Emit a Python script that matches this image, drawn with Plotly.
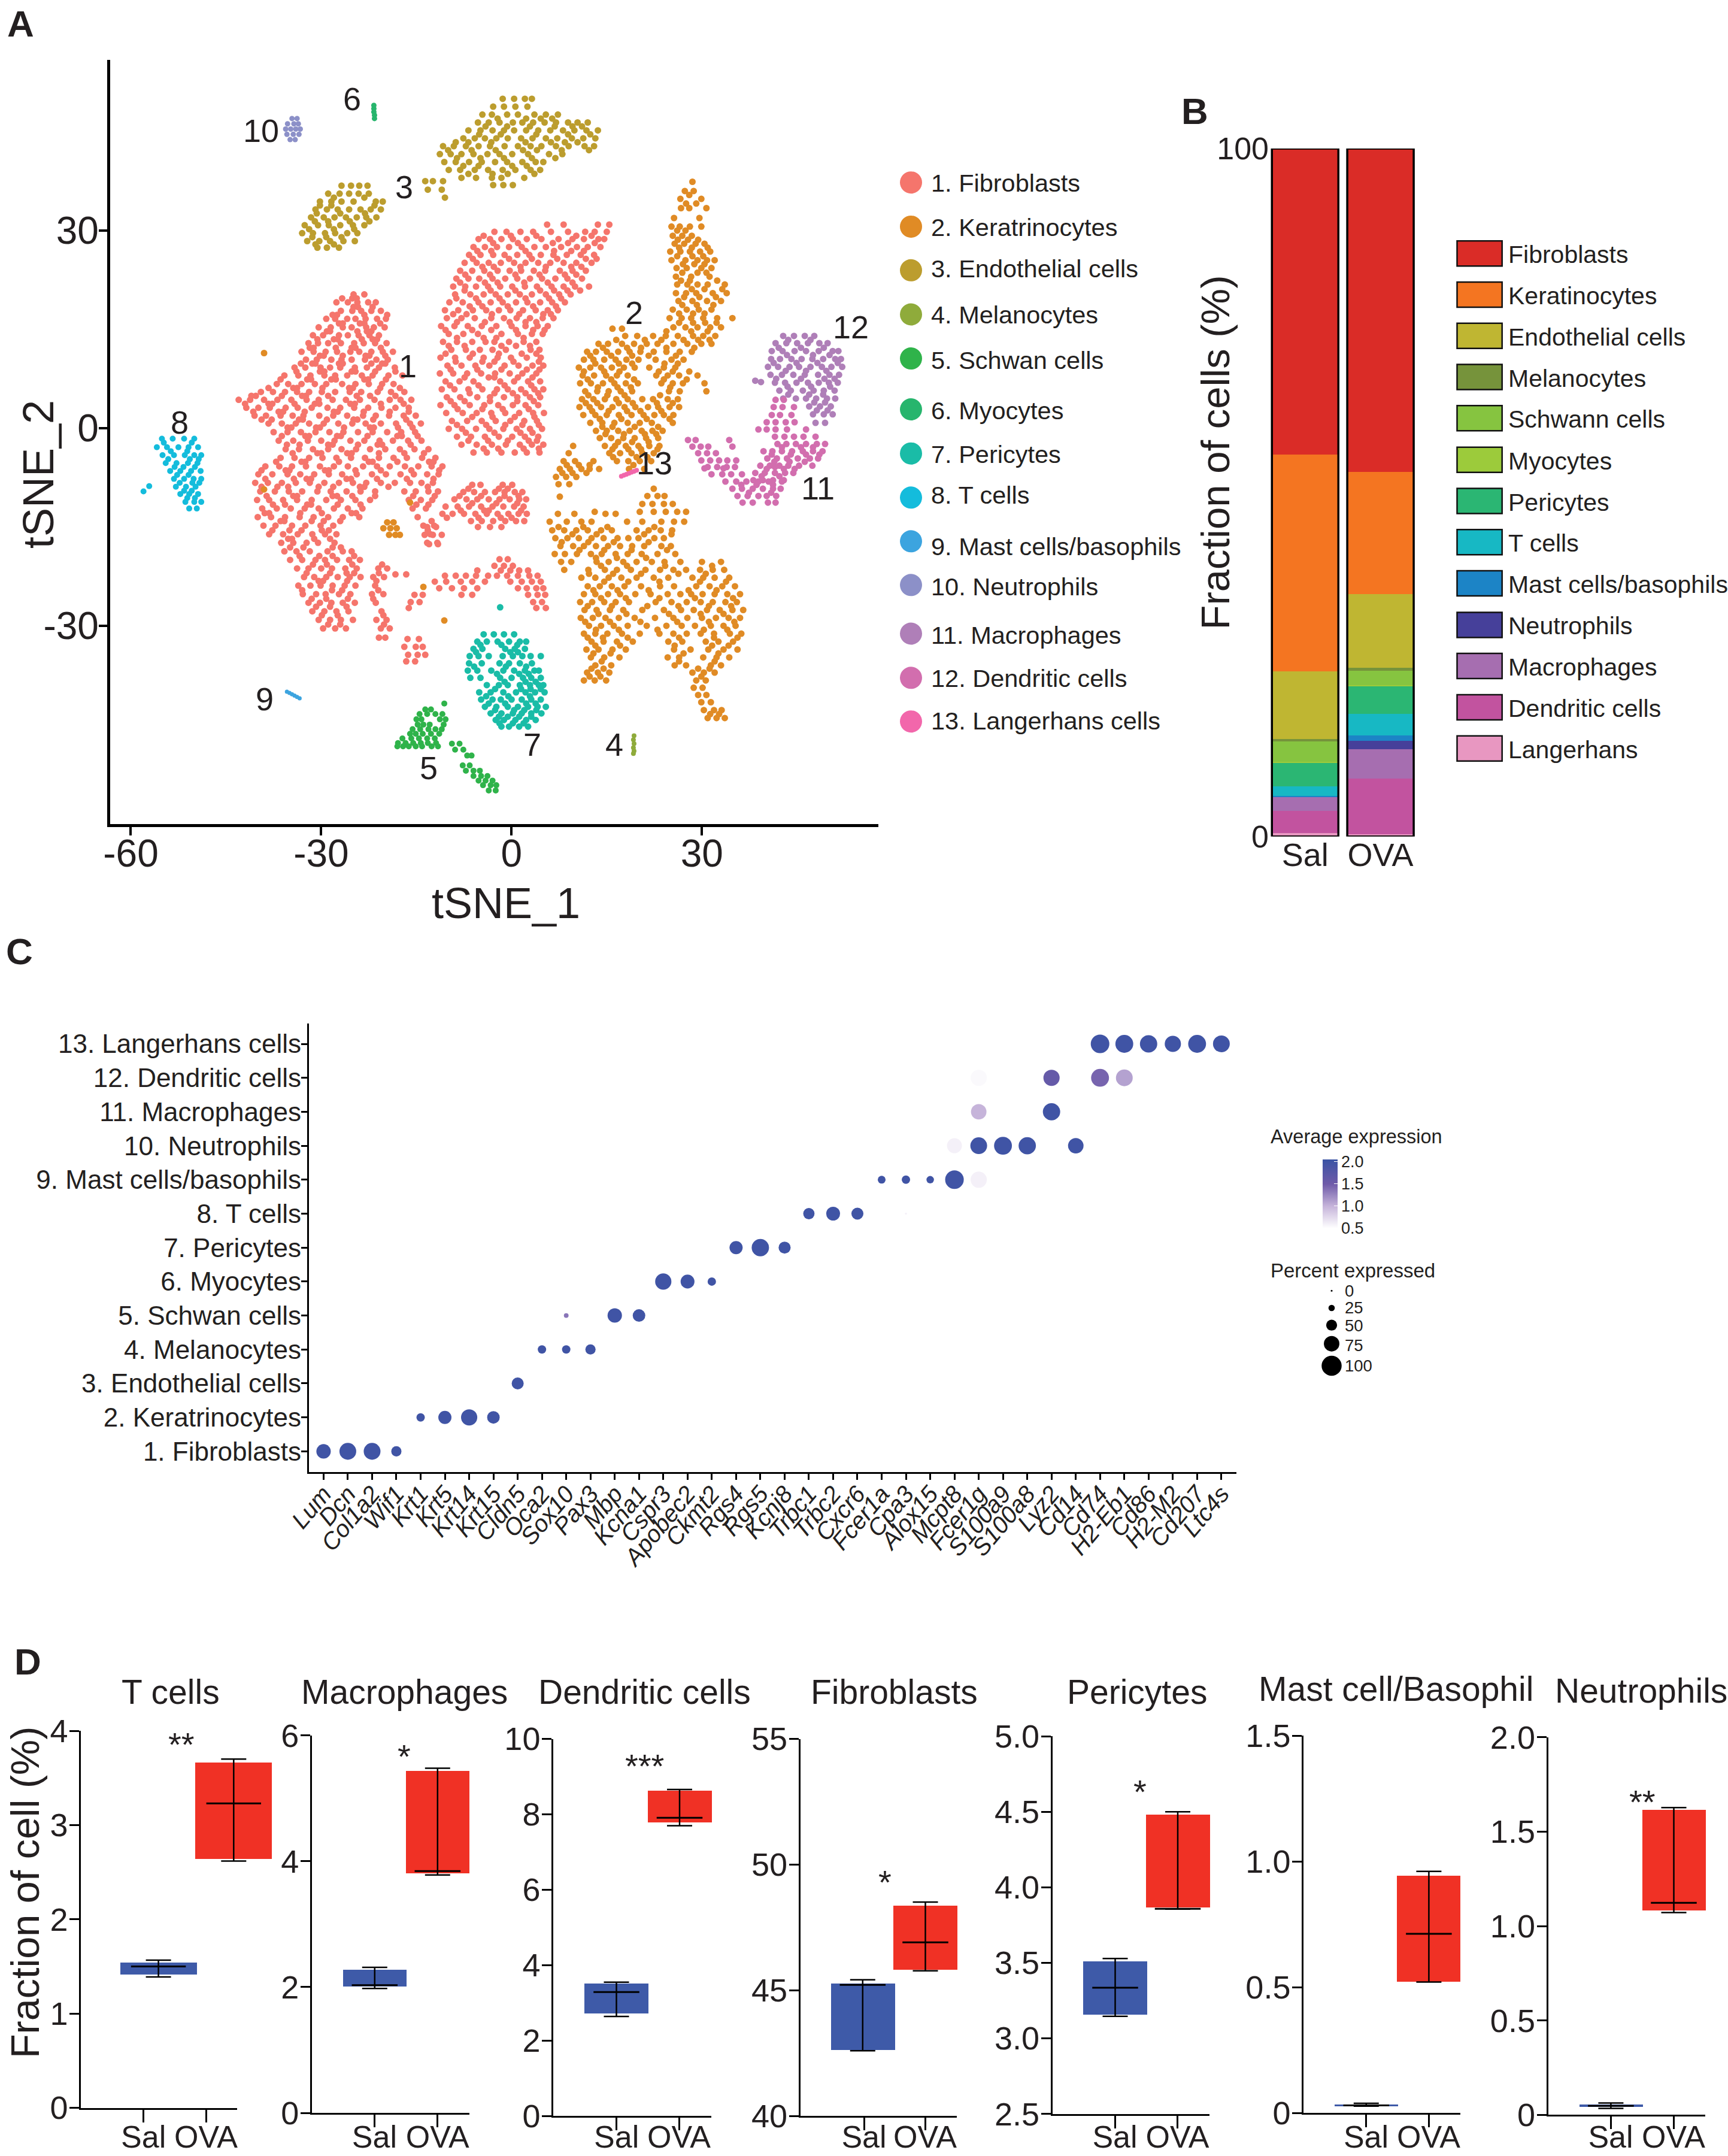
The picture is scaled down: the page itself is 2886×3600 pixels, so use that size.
import plotly.graph_objects as go

W, H = 2886, 3600
FONT = "Liberation Sans"
INK = "#231F20"

# ---------- Panel A: tSNE values as (tSNE_2, [tSNE_1 ...]) rows ----------
fibroblasts = [
 (20.3,[-24.9,-23.2]),(19.1,[-27.6,-25.8,-24.3,-22.6,-21.4]),(17.8,[-26.9,-25.1,-23.7,-22.1,-20.6]),
 (16.6,[-29.2,-27.8,-25.9,-24.6,-23.0,-21.2,-19.8]),(15.3,[-30.4,-28.5,-26.6,-25.2,-22.9,-21.7,-20.0]),
 (14.1,[-31.3,-29.7,-27.2,-25.8,-24.1,-22.4,-20.9]),(12.9,[-32.0,-30.5,-28.9,-26.9,-24.8,-23.3,-21.5,-19.7]),
 (11.6,[-33.1,-31.2,-29.3,-27.5,-25.4,-24.0,-22.1,-20.3,-18.7]),(10.4,[-32.4,-30.7,-28.4,-26.8,-25.2,-23.1,-21.3,-19.5]),
 (9.2,[-34.2,-32.5,-30.1,-28.6,-27.0,-24.7,-22.8,-20.9,-18.4]),(8.0,[-35.8,-33.6,-31.7,-29.5,-27.8,-25.9,-23.6,-21.9,-19.4,-17.2]),
 (6.7,[-37.0,-35.2,-33.1,-31.0,-29.2,-26.7,-24.6,-22.5,-20.4,-18.6]),(5.5,[-39.5,-37.6,-35.7,-33.8,-31.9,-29.9,-27.8,-25.5,-23.7,-21.1,-19.0,-16.9]),
 (4.3,[-43.0,-41.2,-39.0,-36.9,-34.7,-32.3,-30.4,-28.2,-26.1,-23.9,-21.6,-19.2,-17.5,-15.8]),
 (3.1,[-41.8,-39.9,-38.1,-35.6,-33.7,-31.5,-29.0,-27.0,-24.8,-22.6,-20.5,-18.3,-16.2]),
 (1.9,[-40.5,-38.7,-36.4,-34.5,-32.8,-30.3,-28.1,-25.9,-23.4,-21.4,-19.3,-17.0,-15.1]),
 (0.7,[-38.3,-36.2,-34.0,-31.9,-29.6,-27.3,-25.1,-23.0,-20.6,-18.2,-16.0,-14.3]),
 (-0.6,[-37.5,-35.3,-33.2,-30.9,-28.7,-26.5,-24.2,-21.9,-19.6,-17.4,-15.2]),
 (-1.9,[-36.7,-34.4,-32.1,-30.0,-27.9,-25.4,-23.2,-20.8,-18.7,-16.3,-14.2]),
 (-3.2,[-35.6,-33.5,-31.3,-28.9,-26.8,-24.5,-22.3,-19.9,-17.6,-15.3,-13.1]),
 (-4.5,[-36.4,-34.2,-31.9,-29.8,-27.6,-25.3,-23.1,-20.9,-18.6,-16.5,-14.1,-12.0]),
 (-5.8,[-38.8,-36.6,-34.6,-32.4,-30.2,-28.0,-25.8,-23.4,-21.2,-19.2,-16.8,-14.7,-12.6,-10.9]),
 (-7.0,[-39.9,-37.7,-35.3,-33.3,-31.1,-28.8,-26.7,-24.4,-22.0,-19.8,-17.5,-15.4,-13.3,-11.5]),
 (-8.3,[-40.4,-38.4,-36.2,-34.0,-31.8,-29.5,-27.2,-25.0,-22.9,-20.6,-18.4,-16.0,-14.2,-12.4]),
 (-9.6,[-39.6,-37.3,-35.1,-33.0,-30.6,-28.5,-26.0,-23.8,-21.5,-16.9,-15.1,-13.1,-11.6]),
 (-10.9,[-40.1,-38.2,-36.0,-33.8,-31.5,-29.2,-26.9,-24.6,-22.3,-16.2,-14.3,-12.5]),
 (-12.2,[-39.3,-37.0,-34.8,-32.6,-30.4,-28.0,-25.8,-23.5,-15.6,-13.5]),
 (-13.5,[-40.0,-37.9,-35.7,-33.4,-31.2,-28.9,-26.6,-24.0,-14.8]),
 (-14.8,[-39.1,-37.2,-34.6,-32.5,-30.1,-28.1,-13.9,-12.2]),
 (-16.1,[-38.2,-36.0,-33.7,-31.4,-29.4,-27.6,-12.8]),(-17.4,[-36.3,-34.4,-32.3,-30.5,-27.9,-13.3,-11.7]),
 (-18.7,[-35.8,-33.9,-31.8,-29.0,-26.6,-25.2]),(-20.0,[-34.9,-33.0,-30.9,-29.4,-27.5,-25.6,-23.9]),
 (-21.3,[-33.8,-32.0,-30.0,-28.3,-26.2,-24.4,-21.0,-19.6]),(-22.6,[-32.7,-31.1,-29.2,-27.4,-25.5,-23.8,-21.8,-20.1]),
 (-23.9,[-33.6,-31.7,-30.1,-28.2,-26.3,-24.6,-21.5]),(-25.2,[-32.9,-30.8,-29.3,-27.2,-25.4,-22.0,-20.2]),
 (-26.5,[-32.0,-30.2,-28.4,-26.6,-24.7,-21.4]),(-27.8,[-31.4,-29.5,-27.6,-25.7,-20.5]),
 (-29.1,[-30.4,-28.6,-26.9,-25.0,-21.3,-19.7]),(-30.4,[-29.7,-27.8,-26.1,-20.6,-19.2]),(-31.8,[-20.9,-19.9]),
 (-32.0,[-16.4,-14.6]),(-33.2,[-16.9,-15.1,-14.0]),(-34.4,[-16.3,-14.8,-13.6]),(-35.4,[-16.6,-15.2]),
 (19.7,[-26.7,-25.1,-24.4]),(18.4,[-24.9,-24.2,-21.9]),(17.2,[-28.2,-27.5,-23.2,-19.6]),(15.9,[-27.2,-26.6,-23.9,-23.2,-20.7]),
 (14.7,[-29.1,-28.6,-24.3,-22.8,-22.1]),(13.5,[-30.6,-28.0,-27.4,-23.6,-21.9,-21.2]),(12.2,[-31.8,-31.2,-27.7,-25.2,-24.6,-20.6]),
 (11.0,[-30.2,-29.6,-26.6,-23.0,-22.4,-19.9]),(9.8,[-33.2,-31.4,-30.9,-27.2,-26.6,-22.1,-20.4,-19.9]),(8.6,[-33.9,-30.2,-29.5,-25.2,-24.6,-21.5,-18.3]),
 (7.4,[-36.4,-32.2,-31.6,-28.4,-27.7,-23.2,-22.6,-19.8]),(6.1,[-38.3,-34.4,-33.8,-29.8,-25.6,-25.0,-20.7,-17.6]),(4.9,[-41.0,-40.3,-36.2,-33.0,-32.4,-28.9,-24.4,-22.3,-18.3]),
 (3.7,[-42.0,-38.3,-37.7,-34.2,-31.0,-30.3,-25.4,-24.7,-20.6,-17.0]),(2.5,[-40.7,-36.7,-36.0,-32.6,-28.0,-27.4,-23.3,-19.2,-16.2]),
 (1.3,[-39.4,-37.8,-33.5,-32.9,-29.1,-24.9,-24.3,-21.8,-16.6]),(0.1,[-35.3,-34.7,-30.8,-30.2,-26.4,-22.3,-21.7,-17.9,-15.6]),
 (-1.2,[-36.2,-32.5,-31.9,-27.5,-26.9,-22.7,-18.0,-17.3,-14.8]),(-2.5,[-35.4,-33.4,-28.9,-28.2,-24.2,-21.1,-20.4,-15.9]),
 (-3.8,[-34.5,-30.6,-30.0,-25.9,-25.2,-20.9,-16.9,-13.8]),(-5.1,[-37.1,-33.1,-32.5,-27.2,-22.5,-21.9,-18.0,-13.0,-12.3]),
 (-6.4,[-39.4,-35.6,-35.0,-29.4,-28.8,-24.6,-20.6,-15.8,-11.4]),(-7.7,[-38.8,-34.3,-32.3,-31.6,-26.0,-25.3,-21.2,-16.5,-12.3]),
 (-8.9,[-39.4,-36.9,-35.2,-30.4,-28.1,-23.9,-23.2,-19.4,-13.2]),(-10.3,[-38.6,-34.4,-33.8,-28.2,-27.5,-25.1,-21.5,-15.5,-12.1]),
 (-11.6,[-37.6,-35.7,-32.2,-31.6,-27.4,-23.8,-15.0,-13.1]),(-12.9,[-38.9,-38.2,-33.3,-29.9,-25.2,-24.5]),(-14.1,[-36.4,-35.8,-31.5,-29.6,-27.0]),
 (-15.5,[-37.7,-35.0,-33.1,-29.9,-28.8,-13.2]),(-16.8,[-35.2,-34.6,-31.1,-28.6]),(-18.1,[-34.9,-32.8,-28.2,-26.9]),(-19.4,[-33.4,-30.3,-28.2,-24.8]),
 (-20.7,[-31.3,-29.1,-25.1,-20.4]),(-22.0,[-32.3,-28.6,-26.0,-24.8,-20.9]),(-23.2,[-30.4,-29.7,-25.9,-21.3]),(-24.6,[-33.0,-28.3,-26.7,-21.0]),
 (-25.9,[-31.5,-29.2,-25.8,-21.8]),(-27.1,[-30.8,-28.6,-26.0]),(-28.4,[-29.9,-27.4,-20.2]),(-29.8,[-28.9,-27.0,-20.1]),
 # right lobe
 (30.9,[5.6,8.2,13.6,15.4]),(29.8,[-2.7,-0.8,1.4,3.4,6.2,8.9,11.6,13.1,15.0]),(28.7,[-5.2,-3.4,-1.6,0.2,2.4,4.7,7.4,9.6,11.4,13.7,14.6]),
 (27.5,[-6.0,-4.2,-2.3,-0.4,1.6,3.6,5.4,7.8,10.3,12.0,14.0]),(26.3,[-6.7,-4.9,-2.9,-1.1,0.9,2.8,4.6,6.6,8.7,10.9,13.0]),
 (25.1,[-7.4,-5.5,-3.6,-1.7,0.4,2.2,4.2,6.1,8.2,10.2,12.6]),(23.9,[-8.1,-6.2,-4.3,-2.2,-0.3,1.5,3.5,5.3,7.6,9.6,11.7]),
 (22.7,[-8.7,-6.8,-5.1,-3.0,-1.0,0.9,2.9,4.8,6.9,8.8,11.1]),(21.5,[-9.2,-7.3,-5.6,-3.7,-1.8,0.1,2.1,4.0,6.3,8.2,10.0,12.2]),
 (20.3,[-8.9,-6.5,-4.4,-2.5,-0.6,1.3,3.2,5.4,7.5,9.3]),(19.1,[-9.8,-7.7,-5.2,-3.3,-1.4,0.7,2.5,4.5,6.4,8.4]),
 (17.9,[-10.5,-8.4,-6.1,-4.0,-2.0,-0.2,1.8,3.8,5.7,7.3]),(16.7,[-10.2,-7.9,-5.8,-3.2,-1.2,0.8,2.9,4.9,6.6]),
 (15.5,[-11.1,-9.0,-6.9,-4.7,-2.4,0.0,2.2,4.1,5.7]),(14.3,[-9.9,-7.6,-5.3,-1.6,1.0,3.2,4.9]),
 (13.1,[-10.8,-8.6,-6.2,-4.1,-2.7,-0.4,1.9,3.9]),(11.9,[-9.5,-7.2,-5.0,-3.0,-0.9,3.0,4.4]),
 (10.7,[-11.2,-8.9,-6.6,-4.4,-2.2,-0.1,2.4,4.6]),(9.5,[-10.1,-7.9,-5.7,-3.5,-1.1,1.1,3.3,5.0]),
 (8.3,[-11.3,-9.2,-7.0,-4.8,-2.6,-0.3,1.7,3.9]),(7.1,[-10.4,-8.2,-6.0,-1.8,0.4,2.6,4.5]),
 (5.9,[-11.0,-9.0,-6.8,-4.6,-2.3,-0.6,1.5,3.6,5.0]),(4.7,[-10.2,-8.1,-5.4,-3.4,-1.2,0.9,2.9,4.5]),
 (3.5,[-11.2,-9.0,-6.6,-4.3,-2.1,0.2,2.2,4.2]),(2.3,[-10.3,-7.7,-5.5,-3.2,-1.0,1.2,3.4,5.1]),
 (1.1,[-9.4,-7.0,-4.7,-2.5,-0.2,2.0,4.0]),(-0.1,[-9.9,-7.8,-5.6,-3.5,-1.3,0.8,2.9,4.8]),
 (-1.3,[-8.6,-6.4,-4.2,-2.0,0.1,2.1,4.2]),(-2.5,[-7.9,-5.5,-3.1,-0.9,1.3,3.2,5.0]),(-3.7,[-6.0,-3.9,-1.6,0.5,2.4,4.4]),
 (29.2,[-4.4,-0.1,3.9,10.2,12.6]),(28.1,[-2.9,1.0,6.5,8.9,13.1]),(26.9,[-5.4,-3.2,2.2,6.7,9.4,11.4]),(25.7,[-6.1,-0.4,3.2,7.2,11.7,13.4]),
 (24.5,[-4.6,-2.8,1.4,5.4,9.4,11.0]),(23.3,[-7.3,-3.4,0.6,4.4,8.4,10.2]),(22.1,[-8.1,-4.2,-2.2,2.0,5.7,9.6]),(20.9,[-7.4,-3.3,0.6,4.5,6.7,8.8,10.8]),
 (19.7,[-8.7,-5.6,-1.9,2.2,5.9,7.8]),(18.5,[-6.6,-4.6,-0.6,3.4,7.0]),(17.3,[-9.2,-7.1,-3.1,1.2,5.0,6.2]),(16.1,[-8.6,-4.2,-0.3,2.2,3.9]),
 (14.9,[-10.4,-6.2,-3.2,0.7,3.4,5.2]),(13.7,[-8.6,-4.4,-2.4,1.9]),(12.5,[-9.9,-7.4,-1.6,0.7,2.9]),(11.3,[-10.4,-6.1,-2.0,1.6,3.9]),
 (10.1,[-8.8,-4.6,-2.7,0.3,4.3]),(8.9,[-9.6,-5.4,-1.6,2.4,4.4]),(7.7,[-7.4,-3.6,-2.7,1.0,3.3]),(6.5,[-9.7,-5.2,-1.1,3.1]),(5.3,[-6.6,-2.7,0.2,2.2,4.2]),
 (4.1,[-9.6,-7.4,-3.4,0.9,3.5]),(2.9,[-8.5,-4.6,-1.4,2.7]),(1.7,[-6.2,-3.0,0.5,3.6]),(0.5,[-8.6,-4.0,-1.0,1.7,4.3]),(-0.7,[-7.2,-2.7,1.4,3.3]),(-1.9,[-6.8,-3.7,-0.6,2.7,4.0]),(-3.1,[-4.4,-2.1,1.9,4.3]),
 # central lump and lower arc
 (-8.6,[-6.2,-4.9,-1.4,0.1]),(-9.7,[-7.6,-5.9,-4.2,-2.6,-1.1,0.5,1.7]),(-10.8,[-9.0,-7.1,-5.4,-3.6,-1.9,-0.3,1.2,2.3]),
 (-11.9,[-10.4,-8.5,-6.7,-4.8,-3.0,-1.3,0.4,1.9]),(-13.0,[-10.9,-9.3,-7.5,-5.7,-3.9,-2.2,-0.5,1.1,2.4]),(-14.1,[-12.6,-6.4,-4.7,-2.9,-1.0,0.7,2.0]),
 (-9.2,[-6.8,-2.0,-0.6]),(-10.3,[-8.2,-4.8,-1.1,1.1]),(-11.4,[-6.2,-2.4,0.9]),(-12.5,[-8.0,-4.3,-3.6,1.5]),(-13.6,[-10.2,-5.2,-1.7,0.0]),
 (-15.0,[-13.3,-11.9,-5.3,-3.4,-1.6]),(-16.2,[-13.7,-12.4,-11.0]),(-17.6,[-13.0,-11.6]),
 (-19.9,[-1.9,-0.6]),(-20.9,[-2.7,-1.2,0.2]),(-21.6,[-5.4,-1.7,-0.2,1.2,2.6]),(-22.4,[-10.5,-8.8,-7.2,-5.6,-3.7,-2.3,-0.7,1.0,2.8,4.1]),
 (-23.3,[-12.1,-10.3,-8.0,-6.2,-4.2,-0.2,1.6,3.2,4.6]),(-24.3,[-11.4,-9.4,-7.5,-5.4,1.0,2.4,3.9,5.0]),(-25.3,[-15.3,-14.0,-7.9,-6.2,2.6,4.1,5.3]),
 (-26.4,[-15.9,-14.5,3.4,4.8]),(-27.3,[-16.2,3.9,5.4]),(-22.2,[-18.3,-16.6]),
]
keratinocytes = [
 (37.4,[28.5]),(36.0,[27.3,28.7]),(34.8,[26.6,29.9]),(33.4,[26.7,28.0,30.7]),(31.9,[25.6,29.6]),(30.6,[25.2,26.5,28.1,29.9]),
 (29.2,[25.4,26.9,28.4]),(28.0,[25.7,27.2,29.0,30.4]),(26.8,[25.0,26.6,28.1,29.7,31.3]),(25.5,[25.2,27.4,29.3,30.8,32.0]),
 (24.3,[26.0,27.6,29.9,31.5]),(23.0,[25.9,28.3,31.2]),(21.8,[26.1,27.7,29.3,30.9,33.6]),(20.5,[25.9,27.5,29.1,31.7,33.9]),
 (19.3,[26.3,28.5,30.8,33.0]),(18.0,[25.4,27.6,29.5,31.5]),(16.7,[24.9,26.8,28.3,30.2,32.4,34.8]),(15.3,[25.5,27.4,29.3,31.3,33.0]),
 (14.0,[17.9,19.8,22.3,24.3,26.2,28.6,30.2,32.1]),(15.1,[15.9,17.4]),(12.8,[13.7,15.2,17.4,19.3,21.3,23.0,25.5,27.7,29.9,31.5]),
 (11.6,[11.9,13.3,15.0,16.8,18.6,20.3,22.4,24.4,26.5,28.4]),(10.4,[11.4,12.9,14.6,16.4,18.1,20.0,22.7,25.2,27.1]),
 (9.2,[10.6,12.4,14.1,15.8,17.7,19.4,21.7,24.0,25.8]),(8.0,[11.2,13.0,14.9,16.6,18.3,22.8,24.6,26.4,29.3]),
 (6.8,[10.8,12.5,14.4,16.2,18.0,19.9,23.6,25.4,27.0,30.4]),(5.6,[11.6,13.5,15.3,17.2,19.0,24.8,26.5,30.7]),
 (4.4,[11.1,12.9,14.7,16.5,18.3,20.6,22.3,24.6,26.2]),(3.2,[10.7,12.3,14.1,15.9,17.8,19.5,21.5,23.1,24.9,26.4]),
 (2.0,[11.3,13.2,15.0,16.9,18.9,20.8,22.5,24.0,25.5]),(0.8,[12.4,14.3,16.2,18.3,20.2,22.1,25.4]),
 (-0.4,[13.3,15.0,16.8,18.6,20.5,22.2,23.8]),(-1.5,[13.9,15.7,17.6,19.4,21.2,23.1]),(-2.7,[9.7,14.7,16.3,18.0,20.0,21.7,23.3]),
 (-3.8,[9.0,15.4,17.1,18.9,20.6,22.4]),(-5.0,[8.2,10.0,12.9,16.6,18.4,20.2,22.0]),(-6.2,[7.6,9.2,11.0,12.3,13.8,18.5,20.9]),
 (-7.4,[7.0,8.6,10.2]),(-8.5,[7.4,9.1]),(-10.4,[7.6]),
 (35.4,[28.0]),(34.1,[27.5,29.1]),(30.0,[27.4,26.1]),(28.6,[26.2,27.8,29.4]),(27.4,[26.4,28.4,30.9]),(26.1,[26.1,28.5,30.2]),(24.9,[27.0,28.8,30.4]),(23.6,[26.9,29.3,30.7]),
 (22.4,[26.7,28.1,32.4]),(21.1,[28.4,30.4,33.2]),(19.9,[27.2,29.6,32.2]),(18.7,[26.9,29.2,31.8]),(17.4,[26.4,28.6,30.4]),(16.0,[26.4,28.6,30.5,32.3]),(14.7,[24.4,28.3,30.9]),
 (13.4,[16.5,21.0,23.6,27.1,29.4,31.2]),(12.2,[14.4,18.2,20.4,24.4,28.8]),(11.0,[12.4,15.7,19.0,21.6,25.9]),(9.8,[13.2,16.9,19.0,24.1,26.2]),(8.6,[11.4,14.6,17.0,23.2,25.4,28.0]),
 (7.4,[12.0,15.7,19.3,24.0,27.6]),(6.2,[13.6,16.7,18.8,25.0]),(5.0,[12.1,15.1,17.8,23.4]),(3.8,[11.7,13.5,16.9,19.1,22.9,25.4]),(2.6,[12.7,15.3,18.2,20.3,23.6]),
 (1.4,[13.9,17.3,21.3,24.9]),(0.2,[14.3,15.9,19.4,23.1]),(-0.9,[14.8,17.7,21.0,22.8]),(-2.1,[16.8,19.0,21.6]),(-3.2,[15.9,18.4,20.4,23.0]),(-4.4,[16.0,19.7,21.4]),(-5.6,[8.7,10.6,12.3,19.2]),(-6.8,[8.0,9.6,11.8]),
 (-9.2,[22.4]),(-10.3,[21.4,23.0,24.1]),(-11.5,[20.6,22.2,24.0,25.4]),(-12.7,[13.1,20.2,22.4,24.3,26.1,27.5]),(-13.0,[7.3,9.9,14.8,16.4]),
 (-14.2,[6.0,8.7,11.0,12.6,18.2,20.6,23.6,25.6,27.2]),(-15.5,[6.4,8.3,10.2,12.0,14.1,15.8,19.7,21.6,23.5,25.3]),
 (-16.7,[6.9,8.8,10.6,12.6,14.5,16.7,18.4,20.0,22.5,24.0]),(-17.9,[7.7,9.7,11.4,13.3,15.2,17.1,19.0,20.9,23.6,25.1]),
 (-19.1,[6.8,8.4,10.3,12.5,14.2,16.4,18.3,20.5,23.0,25.8]),(-20.3,[7.8,9.4,13.4,15.3,17.6,19.7,22.1,24.1,26.6,30.0,33.0]),
 (-21.5,[8.3,12.1,14.7,16.6,18.8,21.1,23.4,25.5,27.5,29.7,31.7,33.5]),(-22.7,[11.0,13.2,15.3,17.3,19.7,22.4,24.7,28.5,30.2,32.0,34.3]),
 (-24.0,[12.0,13.9,15.8,17.8,20.4,23.4,25.6,29.1,31.2,33.2,35.2]),(-25.2,[11.4,13.2,15.2,17.1,19.5,21.9,24.6,26.6,28.3,30.1,32.0,34.0,36.0]),
 (-26.4,[10.8,12.7,14.6,16.4,18.5,22.7,25.2,27.6,29.8,31.7,33.7,35.5]),(-27.6,[11.5,13.4,15.5,17.6,20.6,24.0,26.7,28.7,30.8,32.8,34.8,36.5]),
 (-28.8,[10.9,12.8,14.8,16.9,19.4,22.6,25.5,27.7,30.0,32.2,34.2,36.0]),(-30.0,[12.2,14.1,16.1,18.3,21.3,24.4,26.8,28.9,31.4,33.4,35.3]),
 (-31.2,[11.4,13.2,15.1,17.4,20.2,23.3,25.5,27.6,29.8,31.9,34.4,36.2]),(-32.4,[12.6,14.5,16.6,19.1,24.7,26.9,30.6,32.6,34.9]),
 (-33.6,[11.8,13.7,15.9,18.0,25.6,28.2,31.0,33.4,35.6]),(-34.8,[12.5,14.6,17.0,24.6,26.4,30.2,32.3,34.3]),(-36.0,[13.2,15.7,25.7,27.5,31.4,33.0]),
 (-37.1,[11.9,13.6,15.4,28.5,30.3,32.0]),(-38.3,[11.4,13.1,14.9,29.1,30.6]),(-39.4,[28.7,30.1]),(-40.5,[29.4,30.7]),(-41.6,[29.9,31.4]),(-42.8,[30.3,31.9,33.1]),(-44.0,[30.9,32.3,33.6]),
 (-15.0,[7.4,11.3,15.1,22.5]),(-16.1,[9.6,13.4,20.9,25.2]),(-17.3,[7.9,12.1,16.1,21.6]),(-18.5,[10.7,14.6,18.9,24.5]),(-19.7,[13.3,16.6,21.2]),(-20.9,[14.1,18.2,24.2,31.6]),(-22.1,[12.2,16.0,20.4,26.3,30.6]),
 (-23.3,[14.6,18.4,23.3,29.7,33.8]),(-24.6,[12.9,16.7,21.6,27.9,32.3]),(-25.8,[14.1,18.0,23.3,28.9,34.9]),(-27.0,[12.0,15.8,21.4,26.3,31.1,34.6]),(-28.2,[13.7,18.1,24.8,29.8,33.4]),
 (-29.4,[11.6,15.5,20.3,26.1,31.1,35.1]),(-30.6,[13.3,16.9,23.0,30.3,34.0]),(-31.8,[12.0,14.4,18.3,26.4,31.9,35.6]),(-33.0,[13.2,17.1,25.7,31.6,34.2]),(-34.2,[12.9,15.6,27.1,32.6]),(-35.4,[14.2,26.4,32.0]),
 (-36.5,[12.6,14.5,29.4,31.2]),(-37.7,[12.3,14.0,29.9]),(-43.4,[31.3,32.7]),
 (-9.3,[-39.0]),(-14.3,[-19.6,-18.6]),(-15.2,[-20.2,-19.1,-18.1]),(-16.2,[-19.3,-18.3,-17.6]),(-11.3,[-16.0]),(-24.1,[-13.9]),(-29.2,[-10.6]),(11.4,[-39.0]),
]
endothelial = [
 (50.0,[-1.4,0.4,2.1,3.2]),(48.8,[-2.9,-1.2,0.6,2.5]),(47.6,[-4.6,-3.1,-0.7,1.0,3.6,5.4,7.3]),(46.4,[-5.3,-3.6,-1.9,0.2,1.7,3.4,5.2,7.0,8.9,10.4,12.0]),
 (45.2,[-6.8,-4.9,-3.0,-1.2,0.4,2.3,4.2,6.1,8.1,9.9,11.8,13.6]),(44.0,[-7.6,-5.8,-4.2,-2.4,-0.6,1.5,3.3,5.4,7.2,9.5,11.3,13.2]),
 (42.8,[-10.8,-9.1,-7.2,-5.2,-3.4,-1.1,1.0,3.0,4.7,7.0,9.0,11.5,13.0]),(41.6,[-11.3,-9.6,-7.9,-6.0,-3.8,-1.9,0.1,2.6,5.9,8.0]),
 (40.4,[-10.6,-8.8,-6.7,-4.7,-2.6,-0.7,1.7,3.8,5.0]),(39.2,[-9.9,-8.1,-5.8,-3.7,-1.4,0.6,3.0,4.5]),(38.0,[-7.9,-5.6,-3.1,-1.6,2.0]),(36.9,[-2.9,-1.3,0.2]),
 (47.0,[-2.2,2.3,4.6,6.4]),(45.8,[-4.1,-0.7,2.9,6.8,9.6,11.1]),(44.6,[-5.1,-1.7,3.9,8.9,12.4]),(43.4,[-8.8,-6.8,-3.2,2.2,6.2,8.4,10.4]),(42.2,[-10.0,-6.3,-2.5,1.8,4.0,7.9,12.2]),(41.0,[-8.6,-4.9,-1.2,3.2,6.9]),(39.8,[-7.6,-5.2,0.1,2.4]),(38.6,[-6.8,-3.0,-0.6,3.6]),
 (37.5,[-13.6,-12.4,-10.8]),(36.2,[-13.2,-11.0]),(35.0,[-10.5]),
 (36.8,[-26.8,-25.3,-24.0,-22.7]),(35.6,[-28.9,-27.1,-25.6,-24.1,-22.5]),(34.4,[-30.2,-28.4,-26.8,-24.9,-21.4,-20.3]),(33.2,[-30.9,-29.1,-27.4,-25.6,-23.8,-22.2,-20.6]),
 (32.0,[-31.6,-29.6,-27.9,-26.1,-24.4,-22.9,-21.3]),(30.8,[-32.6,-30.5,-28.8,-27.0,-25.0,-23.2]),(29.6,[-33.0,-31.3,-29.4,-27.8,-25.9,-24.3]),
 (28.4,[-32.2,-30.3,-28.6,-26.5,-24.7]),(27.4,[-30.6,-29.1,-27.2]),
 (35.0,[-28.0,-23.2]),(33.8,[-30.2,-28.4,-21.6]),(32.6,[-30.7,-27.0,-23.1]),(31.4,[-31.0,-28.9,-25.5,-22.4]),(30.2,[-31.9,-28.0,-24.8]),(29.0,[-31.4,-29.2,-26.8]),(27.9,[-30.9,-28.0]),
]
melanocytes = [(-46.7,[19.3]),(-47.3,[19.2]),(-47.9,[19.3]),(-48.5,[19.2]),(-49.0,[19.3]),(-49.4,[19.2])]
schwann = [
 (-41.8,[-10.6]),(-42.7,[-13.6,-12.7]),(-43.4,[-14.5,-13.3,-12.0,-10.9]),(-44.2,[-15.0,-14.2,-11.3,-10.4]),(-45.0,[-14.8,-13.9,-12.9,-10.7]),(-45.7,[-15.6,-14.4,-13.1,-12.0,-11.0]),
 (-46.4,[-16.0,-15.1,-14.0,-12.7,-11.4]),(-47.1,[-17.2,-15.8,-14.6,-13.3,-12.1]),(-47.8,[-17.9,-16.7,-15.5,-14.3,-13.2,-11.9]),(-48.3,[-18.0,-17.1,-16.2,-15.1,-14.1,-12.6,-11.6]),
 (-47.9,[-9.4,-8.2]),(-48.8,[-8.9,-7.6]),(-49.7,[-7.0,-6.3]),(-51.2,[-7.7,-6.6]),(-52.0,[-7.2,-6.0,-5.0]),(-52.8,[-6.0,-4.8,-3.8]),(-53.5,[-5.2,-4.1,-3.0]),(-54.2,[-4.5,-3.3,-2.4]),(-55.0,[-3.6,-2.5]),
]
myocytes = [(47.0,[-21.6]),(47.5,[-21.6]),(48.0,[-21.7]),(48.5,[-21.7]),(49.0,[-21.7])]
pericytes = [
 (-27.2,[-1.8]),(-31.3,[-4.4,-2.8,-1.2,0.4]),(-32.4,[-5.4,-3.9,-2.2,-0.4,1.3,2.3]),(-33.5,[-6.0,-4.6,-1.0,0.5,2.1]),(-34.6,[-6.6,-5.2,-3.6,-1.4,0.2,1.7,3.0,4.6]),
 (-35.7,[-6.7,-4.7,-1.9,-0.4,1.3,3.2]),(-36.8,[-6.9,-5.4,-3.2,-1.3,0.4,2.1,3.6,4.3]),(-37.9,[-6.5,-4.9,-1.8,0.0,1.8,3.1,4.6]),
 (-39.0,[-3.9,-2.0,-0.6,1.3,2.9,4.3,5.0]),(-40.1,[-5.1,-3.3,-1.3,0.7,2.2,3.7,5.2]),(-41.2,[-4.8,-3.0,-1.7,0.0,1.6,3.1,4.6]),
 (-42.3,[-4.2,-2.4,-0.6,1.0,2.6,4.1,5.4]),(-43.3,[-3.3,-1.6,0.2,1.6,3.1,4.7]),(-44.3,[-2.5,-1.2,0.6,2.3,3.8]),(-45.3,[-1.6,-0.4,1.2,2.6]),
 (-32.9,[-4.9,-1.6,0.9]),(-34.0,[-5.6,-0.2,1.0]),(-36.2,[-5.9,-0.9,2.3]),(-37.3,[-2.3,1.2,2.7]),(-38.5,[-1.1,2.2,3.8]),(-39.6,[-2.6,1.5,3.0,4.6]),(-40.7,[-4.0,-0.5,2.9]),(-41.8,[-3.6,-1.0,2.3,3.8]),(-42.8,[-2.6,0.4,2.0,3.9]),(-43.8,[-2.0,-0.6,1.2,3.1]),(-44.8,[-1.9,0.2,1.9]),
]
t_cells = [
 (-1.6,[-55.1,-53.4,-51.6,-50.0]),(-2.9,[-55.9,-54.3,-52.5,-50.9,-49.4]),(-4.1,[-55.0,-53.2,-51.5,-50.0,-48.9]),(-5.3,[-54.5,-52.8,-51.0,-49.5]),
 (-6.5,[-53.8,-52.2,-50.5,-49.0]),(-7.7,[-53.2,-51.6,-50.1,-48.9]),(-8.9,[-52.9,-51.3,-49.8]),(-10.0,[-52.2,-50.8,-49.4]),(-11.2,[-51.4,-50.0,-48.9]),(-12.2,[-50.8,-49.6]),(-9.6,[-58.0]),(-8.8,[-57.1]),
 (-2.2,[-54.8,-50.4]),(-3.5,[-53.7,-51.1]),(-4.7,[-54.1,-50.7,-49.3]),(-5.9,[-53.1,-51.7,-49.9]),(-7.1,[-52.7,-50.9]),(-8.3,[-52.3,-50.3,-49.2]),(-9.5,[-51.6,-50.4]),(-10.6,[-51.1,-49.9]),
]
mast = [(-40.0,[-35.4]),(-40.2,[-35.0]),(-40.4,[-34.6]),(-40.6,[-34.2]),(-40.8,[-33.8]),(-41.0,[-33.4])]
neutrophils = [(47.0,[-34.6,-33.8]),(46.2,[-35.3,-34.3,-33.6]),(45.4,[-35.6,-34.8,-34.0,-33.3]),(44.6,[-35.4,-34.4,-33.5]),(43.8,[-34.9,-34.1])]
macrophages = [
 (14.0,[42.8,44.5,46.2,47.7]),(12.9,[41.6,43.3,45.0,46.7,48.5,49.8]),(11.7,[41.0,42.7,44.6,46.4,48.4,50.6,51.5]),(10.5,[40.9,42.3,44.1,45.7,47.4,49.1,51.0,51.9]),
 (9.3,[40.4,42.0,43.8,45.3,47.1,48.9,50.4,52.1]),(8.1,[40.8,42.6,44.4,46.2,48.3,50.1,51.6]),(6.9,[41.5,43.1,44.9,46.7,48.4,50.0,51.4]),
 (5.7,[42.2,44.0,45.9,47.6,49.2,50.9]),(4.5,[42.8,44.8,46.4,48.0,49.7,51.0]),(3.3,[46.9,48.6,50.3]),(2.1,[47.5,49.2,50.6]),(0.8,[47.9,49.4]),(7.2,[38.4]),(7.0,[39.3]),
 (13.4,[43.6,47.1]),(12.2,[42.1,45.6,49.2]),(11.1,[43.4,47.5,50.1]),(9.9,[41.3,44.9,48.2,51.4]),(8.7,[43.2,46.4,49.6]),(7.5,[41.7,45.6,49.3,50.9]),(6.3,[43.5,47.2,50.2]),(5.1,[43.6,46.9,49.1]),(3.9,[47.7,49.4]),(2.7,[48.1,49.8]),
]
dendritic = [
 (4.3,[41.6,42.9]),(3.2,[41.3,42.7,44.5]),(2.0,[41.0,42.3,44.1]),(0.9,[40.2,41.6,43.2,44.6]),(-0.2,[38.9,40.2,41.6,43.4,46.4]),
 (-1.3,[41.5,43.0,44.5,46.0,47.9]),(-2.4,[41.9,43.3,44.8,46.4,48.1,49.4]),(-3.5,[39.7,41.1,42.6,44.2,45.9,47.5,49.0]),(-4.6,[40.3,41.8,43.4,45.1,47.0,48.3]),
 (-5.7,[39.2,40.7,42.2,43.6,45.3,47.4]),(-6.8,[38.4,39.9,41.5,43.1,44.4]),(-7.9,[38.1,39.6,41.2,42.9]),
 (-1.8,[27.8,29.0,34.3]),(-2.8,[28.5,29.8,31.0,34.8]),(-3.8,[29.4,30.8,32.2]),(-4.9,[29.9,31.3,32.7,34.0,35.4]),(-5.9,[30.9,32.4,33.9,35.2,41.5]),(-7.0,[31.5,33.2,34.6,36.3]),
 (-8.1,[33.7,35.4,37.0,38.9,40.5,42.6]),(-9.2,[34.8,36.3,38.0,39.6,41.2,42.4]),(-10.3,[35.6,37.2,38.9,40.2,41.7]),(-11.3,[36.4,38.0,40.4,41.6]),(-6.1,[30.4,33.4]),
 (-2.9,[42.6,45.6,47.5]),(-4.0,[41.0,44.0,46.4,48.5]),(-5.1,[41.4,43.8,46.2]),(-6.2,[40.2,42.9,44.6]),(-7.3,[39.4,42.2]),(-8.6,[36.2,38.6,41.2]),(-9.8,[37.4,40.9]),
]
langerhans = [(-7.3,[17.3]),(-7.15,[17.7]),(-7.0,[18.1]),(-6.85,[18.5]),(-6.7,[18.9]),(-6.55,[19.3]),(-6.4,[19.7])]
tsne_clusters = [fibroblasts, keratinocytes, endothelial, melanocytes, schwann, myocytes, pericytes, t_cells, mast, neutrophils, macrophages, dendritic, langerhans]
tsne_sizes = [11,11,11,8,10,9,11,10,7,9,11,11,8]
tsne_colors = ["#F5756C","#E08B25","#BC9D2E","#8FAB3B","#2FB34A","#27B56D","#1ABCA7","#14BCDC","#3CA4DF","#8C90C8","#AF7FB8","#D26EAE","#F267AB"]
tsne_legend = ["1. Fibroblasts","2. Keratrinocytes","3. Endothelial cells","4. Melanocytes","5. Schwan cells","6. Myocytes","7. Pericytes","8. T cells","9. Mast cells/basophils","10. Neutrophils","11. Macrophages","12. Dendritic cells","13. Langerhans cells"]

# ---------- Panel B ----------
stack_names = ["Fibroblasts","Keratinocytes","Endothelial cells","Melanocytes","Schwann cells","Myocytes","Pericytes","T cells","Mast cells/basophils","Neutrophils","Macrophages","Dendritic cells","Langerhans"]
stack_colors = ["#DA2C27","#F47521","#BFB632","#76933B","#86C440","#9CCB3B","#2BB673","#17B8C4","#1C84C6","#46409A","#A66EB0","#C2539F","#E897C1"]
sal_fraction = [44.5,31.45,9.85,0.35,2.96,0.2,3.37,1.45,0.06,0.06,2.03,3.19,0.52]
ova_fraction = [47.1,17.78,10.7,0.4,2.12,0.1,4.09,3.13,0.76,1.22,4.29,8.07,0.35]

# ---------- Panel C ----------
genes = ["Lum","Dcn","Col1a2","Wif1","Krt1","Krt5","Krt14","Krt15","Cldn5","Oca2","Sox10","Pax3","Mbp","Kcna1","Cspr3","Apobec2","Ckmt2","Rgs4","Rgs5","Kcnj8","Trbc1","Trbc2","Cxcr6","Fcer1a","Cpa3","Alox15","Mcpt8","Fcer1g","S100a9","S100a8","Lyz2","Cd14","Cd74","H2-Eb1","Cd86","H2-M2","Cd207","Ltc4s"]
rows_c = ["1. Fibroblasts","2. Keratrinocytes","3. Endothelial cells","4. Melanocytes","5. Schwan cells","6. Myocytes","7. Pericytes","8. T cells","9. Mast cells/basophils","10. Neutrophils","11. Macrophages","12. Dendritic cells","13. Langerhans cells"]
dot_gene = ["Lum","Dcn","Col1a2","Wif1","Krt1","Krt5","Krt14","Krt15","Cldn5","Oca2","Sox10","Pax3","Sox10","Mbp","Kcna1","Cspr3","Apobec2","Ckmt2","Rgs4","Rgs5","Kcnj8","Trbc1","Trbc2","Cxcr6","Cpa3","Fcer1a","Cpa3","Alox15","Mcpt8","Fcer1g","Mcpt8","Fcer1g","S100a9","S100a8","Cd14","Fcer1g","Lyz2","Fcer1g","Lyz2","Cd74","H2-Eb1","Cd74","H2-Eb1","Cd86","H2-M2","Cd207","Ltc4s"]
dot_row = [1,1,1,1,2,2,2,2,3,4,4,4,5,5,5,6,6,6,7,7,7,8,8,8,8,9,9,9,9,9,10,10,10,10,10,11,11,12,12,12,12,13,13,13,13,13,13]
dot_pct = [69,82,82,46,36,62,79,59,56,36,36,46,16,69,59,79,66,36,62,85,56,52,66,56,1,33,36,31,92,79,72,82,88,85,75,75,85,79,79,88,82,92,88,85,79,88,82]
dot_expr = [2,2,2,2,2,2,2,2,2,2,2,2,1.35,2,2,2,2,2,2,2,2,2,2,2,0.6,2,2,2,2,0.6,0.6,2,2,2,2,1.0,2,0.54,1.6,1.45,1.1,2,2,2,2,2,2]
pct_legend = [0,25,50,75,100]

# ---------- Panel D: [lower whisker, box bottom, median, box top, upper whisker] ----------
d_titles = ["T cells","Macrophages","Dendritic cells","Fibroblasts","Pericytes","Mast cell/Basophil","Neutrophils"]
d_sal = [[1.389,1.416,1.50,1.542,1.566],[1.978,2.008,2.029,2.278,2.314],[2.64,2.73,3.29,3.52,3.55],[42.6,42.64,45.22,45.28,45.42],[3.146,3.158,3.335,3.511,3.528],[0.027,0.027,0.030,0.033,0.038],[0.034,0.044,0.048,0.054,0.063]]
d_ova = [[2.618,2.642,3.23,3.666,3.70],[3.782,3.812,3.843,5.443,5.479],[7.70,7.79,7.91,8.63,8.66],[45.78,45.83,46.91,48.37,48.51],[3.855,3.866,3.857,4.480,4.50],[0.520,0.522,0.712,0.944,0.960],[1.072,1.082,1.123,1.616,1.628]]
d_ticks = [[0,1,2,3,4],[0,2,4,6],[0,2,4,6,8,10],[40,45,50,55],[2.5,3,3.5,4,4.5,5],[0,0.5,1,1.5],[0,0.5,1,1.5,2]]
d_ticktext = [["0","1","2","3","4"],["0","2","4","6"],["0","2","4","6","8","10"],["40","45","50","55"],["2.5","3.0","3.5","4.0","4.5","5.0"],["0","0.5","1.0","1.5"],["0","0.5","1.0","1.5","2.0"]]
d_stars = ["**","*","***","*","*","","**"]

# ---------- layout helpers (page pixels -> paper) ----------
def px(v): return v / W
def py(v): return 1 - v / H
def dom_x(a, b): return [px(a), px(b)]
def dom_y(top, bottom): return [py(bottom), py(top)]

fig = go.Figure()
anns, shapes = [], []
def text(x, y, s, size, anchor="center", rot=0, bold=False, color=INK):
    anns.append(dict(xref="paper", yref="paper", x=px(x), y=py(y), text=f"<b>{s}</b>" if bold else s, showarrow=False,
                     xanchor=anchor, yanchor="middle", textangle=rot, font=dict(family=FONT, size=size, color=color)))

def axis(**kw):
    base = dict(showgrid=False, zeroline=False, showline=True, linecolor="#000", ticks="outside", tickcolor="#000",
                tickfont=dict(family=FONT, color=INK))
    base.update(kw)
    return base

axes = {}
# A
axes["xaxis"] = axis(domain=dom_x(183.5,1467), range=[-63.3,57.8], anchor="y", tickvals=[-60,-30,0,30], ticktext=["-60","-30","0","30"],
                     linewidth=4.5, tickwidth=4, ticklen=14, ticklabelstandoff=-25, tickfont=dict(family=FONT,size=64,color=INK))
axes["yaxis"] = axis(domain=dom_y(100,1376), range=[-60.1,55.9], anchor="x", tickvals=[-30,0,30], ticktext=["-30","0","30"],
                     linewidth=4.5, tickwidth=4, ticklen=14, ticklabelstandoff=-13, tickfont=dict(family=FONT,size=64,color=INK))
for rows, col, sz in zip(tsne_clusters, tsne_colors, tsne_sizes):
    xs, ys = [], []
    for y, row in rows:
        xs += row
        ys += [y] * len(row)
    fig.add_trace(go.Scatter(x=xs, y=ys, mode="markers", marker=dict(size=sz, color=col, line_width=0), xaxis="x", yaxis="y", hoverinfo="skip"))

text(845,1508,"tSNE_1",72); text(64,792,"tSNE_2",72,rot=-90)
for lab,x,y in [("10",435.7,218.4),("6",587.5,164.8),("3",675.4,312),("1",681,611),("8",299.5,705),("2",1059,522),("12",1420.5,546),("13",1093,773),("11",1366,815),("9",441.5,1167),("7",889,1243),("5",716,1282),("4",1025.5,1243)]:
    text(x,y,lab,54)
leg_c = [304.7,378.4,451.3,525,598.6,683.5,757.2,830.8,903.8,976.8,1058,1131.8,1204.7]
leg_t = [306,380,449,525,601.5,685,758,827,912,980,1060,1132.5,1203]
for lab,col,cy,ty in zip(tsne_legend,tsne_colors,leg_c,leg_t):
    shapes.append(dict(type="circle",xref="paper",yref="paper",x0=px(1503),x1=px(1540),y0=py(cy+18.5),y1=py(cy-18.5),fillcolor=col,line_width=0))
    text(1553,ty,lab,41.5,anchor="left")

# B
axes["xaxis2"] = axis(domain=dom_x(2120,2366), range=[-0.475,1.48], anchor="y2", showline=False, ticks="", tickvals=[0,1], ticktext=["Sal","OVA"], ticklabelstandoff=-6, tickfont=dict(family=FONT,size=54,color=INK))
axes["yaxis2"] = axis(domain=dom_y(248,1396.7), range=[0,100], anchor="x2", showline=False, ticks="", tickvals=[0,100], ticktext=["0","100"], tickfont=dict(family=FONT,size=52,color=INK))
for i in range(len(stack_names)-1,-1,-1):   # stacked from the bottom of the column upward
    fig.add_trace(go.Bar(x=[0,1], y=[sal_fraction[i],ova_fraction[i]], width=0.882, marker=dict(color=stack_colors[i],line_width=0), xaxis="x2", yaxis="y2", hoverinfo="skip"))
for i in (0,1):
    shapes.append(dict(type="rect",xref="x2",yref="y2",x0=i-0.441,x1=i+0.441,y0=0,y1=100,line=dict(color="#000",width=3.5),layer="above"))
text(2028.5,755,"Fraction of cells (%)",67,rot=-90)
for lab,col,cy in zip(stack_names,stack_colors,[423.3,492,560.8,629.5,698.3,767.7,836.5,905.2,974,1043.4,1112,1181,1249.7]):
    shapes.append(dict(type="rect",xref="paper",yref="paper",x0=px(2433.5),x1=px(2508.7),y0=py(cy+21),y1=py(cy-21),fillcolor=col,line=dict(color="#111",width=2.5)))
    text(2517,cy+2,lab,41,anchor="left")

# C
axes["xaxis3"] = axis(domain=dom_x(515.8,2065), range=[-0.607,37.62], anchor="y3", tickvals=list(range(38)), ticktext=[f"<i>{g}</i>" for g in genes],
                      tickangle=-50, linewidth=3, tickwidth=2.5, ticklen=10, ticklabelstandoff=-16, tickfont=dict(family=FONT,size=40,color=INK))
axes["yaxis3"] = axis(domain=dom_y(1708.7,2457.8), range=[0.393,13.605], anchor="x3", tickvals=list(range(1,14)), ticktext=rows_c,
                      linewidth=3, tickwidth=2.5, ticklen=10, ticklabelstandoff=-9, tickfont=dict(family=FONT,size=44,color=INK))
fig.add_trace(go.Scatter(x=[genes.index(g) for g in dot_gene], y=dot_row, mode="markers", xaxis="x3", yaxis="y3", hoverinfo="skip",
    marker=dict(size=[3+0.305*p for p in dot_pct], color=dot_expr, opacity=1, cmin=0.5, cmax=2.06, line_width=0,
        colorscale=[[0,"#FFFFFF"],[0.32,"#C6B4DA"],[0.64,"#6F5BA9"],[1,"#3A53A4"]],
        colorbar=dict(x=px(2208.6),xanchor="left",xpad=0,y=py(1935.5),yanchor="top",ypad=0,len=114.5,lenmode="pixels",thickness=25,thicknessmode="pixels",
            outlinewidth=0,tickvals=[0.5,1,1.5,2],ticktext=["0.5","1.0","1.5","2.0"],ticks="inside",ticklen=6,tickcolor="#fff",tickfont=dict(family=FONT,size=27,color=INK)))))
text(2119.6,1898,"Average expression",32.5,anchor="left"); text(2119.6,2121,"Percent expressed",33,anchor="left")
for p,cy,ty in zip(pct_legend,[2155.3,2184,2212.7,2243.7,2280.5],[2155,2183,2213,2246.6,2280]):
    r = (3+0.305*p)/2
    shapes.append(dict(type="circle",xref="paper",yref="paper",x0=px(2224-r),x1=px(2224+r),y0=py(cy+r),y1=py(cy-r),fillcolor="#000",line_width=0))
    text(2244,ty,str(p),27.5,anchor="left")

# D
d_layout = [ # axis x, x end, top px, bottom px, tick Sal, tick OVA, box Sal, box OVA, box width, median width, title x, title y
 (135,396,2890,3519.5,239.6,344,264.6,390.3,128,92,285,2825),
 (520.8,783.5,2897.7,3528,625.4,730.8,625.8,730.8,106,77,675,2825),
 (924,1188,2903.5,3533.4,1029.6,1134,1029.5,1135,107,77,1076,2825),
 (1336.7,1598,2903.5,3533.4,1443,1545,1440.8,1545.5,107,77,1493.6,2825),
 (1757.7,2019.6,2899,3529.7,1862,1966.5,1862.5,1967,107,77,1898.7,2825),
 (2177,2439,2898,3528,2281.5,2386,2281.8,2386.4,106,77,2331,2820),
 (2585.5,2847.5,2900.9,3531.3,2690,2795,2690.4,2795.5,106,77,2741,2823),
]
star_pos = [(303.4,2898),(675,2918),(1076,2934),(1478,3128),(1904,2977),(0,0),(2743,2994)]
for i,(ax0,ax1,top,bot,t1,t2,b1,b2,bw,mw,tx,ty) in enumerate(d_layout):
    n = i+4
    unit = t2-t1
    to_val = lambda p: 1+(p-t1)/unit
    ticks = d_ticks[i]
    axes[f"xaxis{n}"] = axis(domain=dom_x(ax0,ax1), range=[to_val(ax0),to_val(ax1)], anchor=f"y{n}", tickvals=[1,2], ticktext=["Sal","OVA"],
                             linewidth=3, tickwidth=2.5, ticklen=21, ticklabelstandoff=round(-20-(bot-3519.5)), tickfont=dict(family=FONT,size=52,color=INK))
    axes[f"yaxis{n}"] = axis(domain=dom_y(top,bot), range=[ticks[0],ticks[-1]], anchor=f"x{n}", tickvals=ticks, ticktext=d_ticktext[i],
                             linewidth=2.5, tickwidth=2.5, ticklen=16, ticklabelstandoff=-8, tickfont=dict(family=FONT,size=54,color=INK))
    # an unseen trace keeps the drawn axis pair alive; the boxes reach past the end of that x axis,
    # so they sit on a wider hidden axis of the same scale
    fig.add_trace(go.Scatter(x=[1], y=[ticks[0]], mode="markers", marker=dict(size=1,opacity=0), xaxis=f"x{n}", yaxis=f"y{n}", hoverinfo="skip"))
    hid = n + 10
    wide_end = min(ax1+90, W)
    axes[f"xaxis{hid}"] = dict(domain=dom_x(ax0,wide_end), range=[to_val(ax0),to_val(wide_end)], anchor=f"y{n}", visible=False, showgrid=False, zeroline=False)
    xs = [to_val(b1),to_val(b2)]
    s,o = d_sal[i],d_ova[i]
    fig.add_trace(go.Bar(x=xs, y=[s[3]-s[1],o[3]-o[1]], base=[s[1],o[1]], width=bw/unit, marker=dict(color=["#3E5AA8","#F03125"],line_width=0),
                         xaxis=f"x{hid}", yaxis=f"y{n}", cliponaxis=False, hoverinfo="skip"))
    fig.add_trace(go.Scatter(x=xs, y=[s[2],o[2]], mode="markers", xaxis=f"x{hid}", yaxis=f"y{n}", cliponaxis=False, hoverinfo="skip",
        marker=dict(symbol="line-ew",size=mw*0.71,color="#000",line=dict(color="#000",width=3)),
        error_y=dict(type="data",symmetric=False,array=[s[4]-s[2],o[4]-o[2]],arrayminus=[s[2]-s[0],o[2]-o[0]],color="#000",thickness=2.5,width=21)))
    text(tx,ty,d_titles[i],57)
    if d_stars[i]:
        text(star_pos[i][0],star_pos[i][1]+14,d_stars[i],56)
text(42,3160,"Fraction of cell (%)",66.5,rot=-90)

for lab,x,y in [("A",34,39),("B",1995,186),("C",32,1589),("D",46,2774)]:
    text(x,y,lab,62,bold=True)

fig.update_layout(width=W,height=H,margin=dict(l=0,r=0,t=0,b=0,autoexpand=False),paper_bgcolor="#fff",plot_bgcolor="rgba(0,0,0,0)",
                  showlegend=False,barmode="stack",bargap=0,annotations=anns,shapes=shapes,font=dict(family=FONT,color=INK),**axes)
fig.write_html("out.html",post_script="document.body.style.margin='0';",config={"displayModeBar":False})
